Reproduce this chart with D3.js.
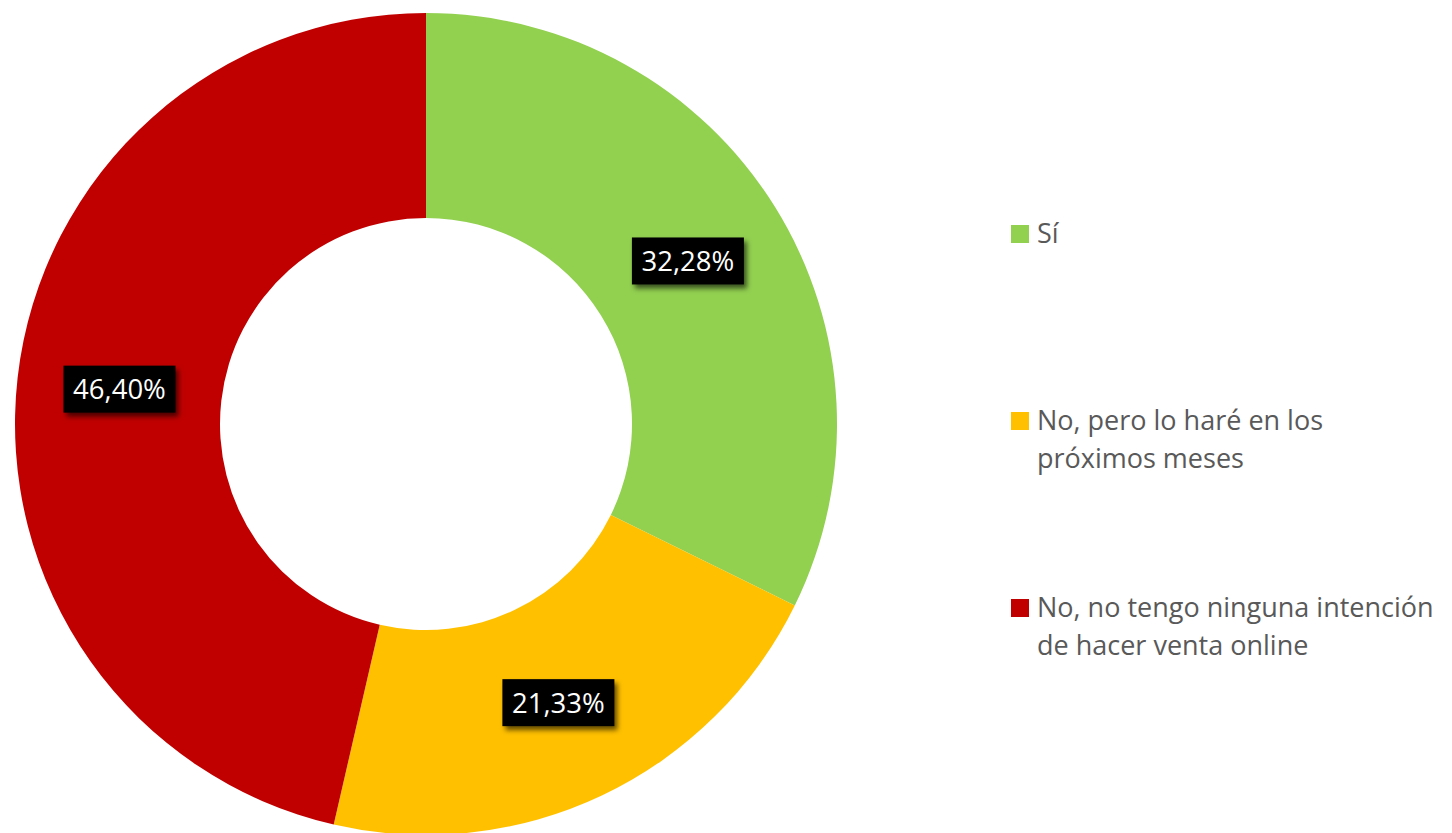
<!DOCTYPE html>
<html>
<head>
<meta charset="utf-8">
<script src="https://cdn.jsdelivr.net/npm/d3@7"></script>
<style>
  body { margin: 0; background: #fff; }
  svg { display: block; }
</style>
</head>
<body>
<svg id="chart" width="1452" height="833"></svg>
<script>
// data
var categories = ['Sí', 'No, pero lo haré en los próximos meses', 'No, no tengo ninguna intención de hacer venta online'];
var values = [32.28, 21.33, 46.40];
var valueLabels = ['32,28%', '21,33%', '46,40%'];
var colors = ['#92D050', '#FFC000', '#C00000'];

var width = 1452, height = 833;
var cx = 426, cy = 424;
var outerR = 411, innerR = 206;

var svg = d3.select('#chart');

// drop shadow for the value boxes
var defs = svg.append('defs');
var shadow = defs.append('filter')
  .attr('id', 'shadow')
  .attr('x', '-20%').attr('y', '-20%')
  .attr('width', '150%').attr('height', '160%');
shadow.append('feDropShadow')
  .attr('dx', 3).attr('dy', 4)
  .attr('stdDeviation', 2.5)
  .attr('flood-color', '#000')
  .attr('flood-opacity', 0.6);

var pie = d3.pie().sort(null).value(function (d) { return d; });
var arcs = pie(values);

var drawArc = d3.arc()
  .innerRadius(innerR)
  .outerRadius(outerR);

var donut = svg.append('g')
  .attr('transform', 'translate(' + cx + ',' + cy + ')');

donut.selectAll('path.slice')
  .data(arcs)
  .enter()
  .append('path')
  .attr('class', 'slice')
  .attr('d', drawArc)
  .attr('fill', function (d, i) { return colors[i]; });

// value labels
var labelArc = d3.arc()
  .innerRadius((innerR + outerR) / 2)
  .outerRadius((innerR + outerR) / 2);

var labels = donut.selectAll('g.value-label')
  .data(arcs)
  .enter()
  .append('g')
  .attr('class', 'value-label')
  .attr('transform', function (d) {
    return 'translate(' + labelArc.centroid(d) + ')';
  });

labels.append('rect')
  .attr('x', -56).attr('y', -23.5)
  .attr('width', 112).attr('height', 47)
  .attr('fill', '#000')
  .attr('filter', 'url(#shadow)');

labels.append('text')
  .attr('text-anchor', 'middle')
  .attr('dy', '0.36em')
  .style('font-family', '"Open Sans", sans-serif')
  .style('font-size', '27.5px')
  .attr('fill', '#fff')
  .text(function (d, i) { return valueLabels[i]; });

// legend
var legendX = 1011;
var legendY = d3.scalePoint()
  .domain(categories)
  .range([243, 617]);

var legend = svg.append('g').attr('class', 'legend');

var items = legend.selectAll('g.item')
  .data(categories)
  .enter()
  .append('g')
  .attr('class', 'item')
  .attr('transform', function (d) {
    return 'translate(' + legendX + ',' + legendY(d) + ')';
  });

items.append('rect')
  .attr('x', 0).attr('y', -18)
  .attr('width', 18).attr('height', 18)
  .attr('fill', function (d, i) { return colors[i]; });

items.append('text')
  .attr('x', 26)
  .style('font-family', '"Open Sans", sans-serif')
  .style('font-size', '27px')
  .attr('fill', '#595959')
  .each(function (d) {
    wrap(d3.select(this), d, 404, 38);
  });

function wrap(text, str, maxWidth, lineHeight) {
  var words = str.split(' ');
  var line = [];
  var lineNo = 0;
  var tspan = text.append('tspan').attr('x', 26).attr('y', 0);
  words.forEach(function (w) {
    line.push(w);
    tspan.text(line.join(' '));
    if (tspan.node().getComputedTextLength() > maxWidth && line.length > 1) {
      line.pop();
      tspan.text(line.join(' '));
      line = [w];
      lineNo++;
      tspan = text.append('tspan')
        .attr('x', 26)
        .attr('y', lineNo * lineHeight)
        .text(w);
    }
  });
}
</script>
</body>
</html>
